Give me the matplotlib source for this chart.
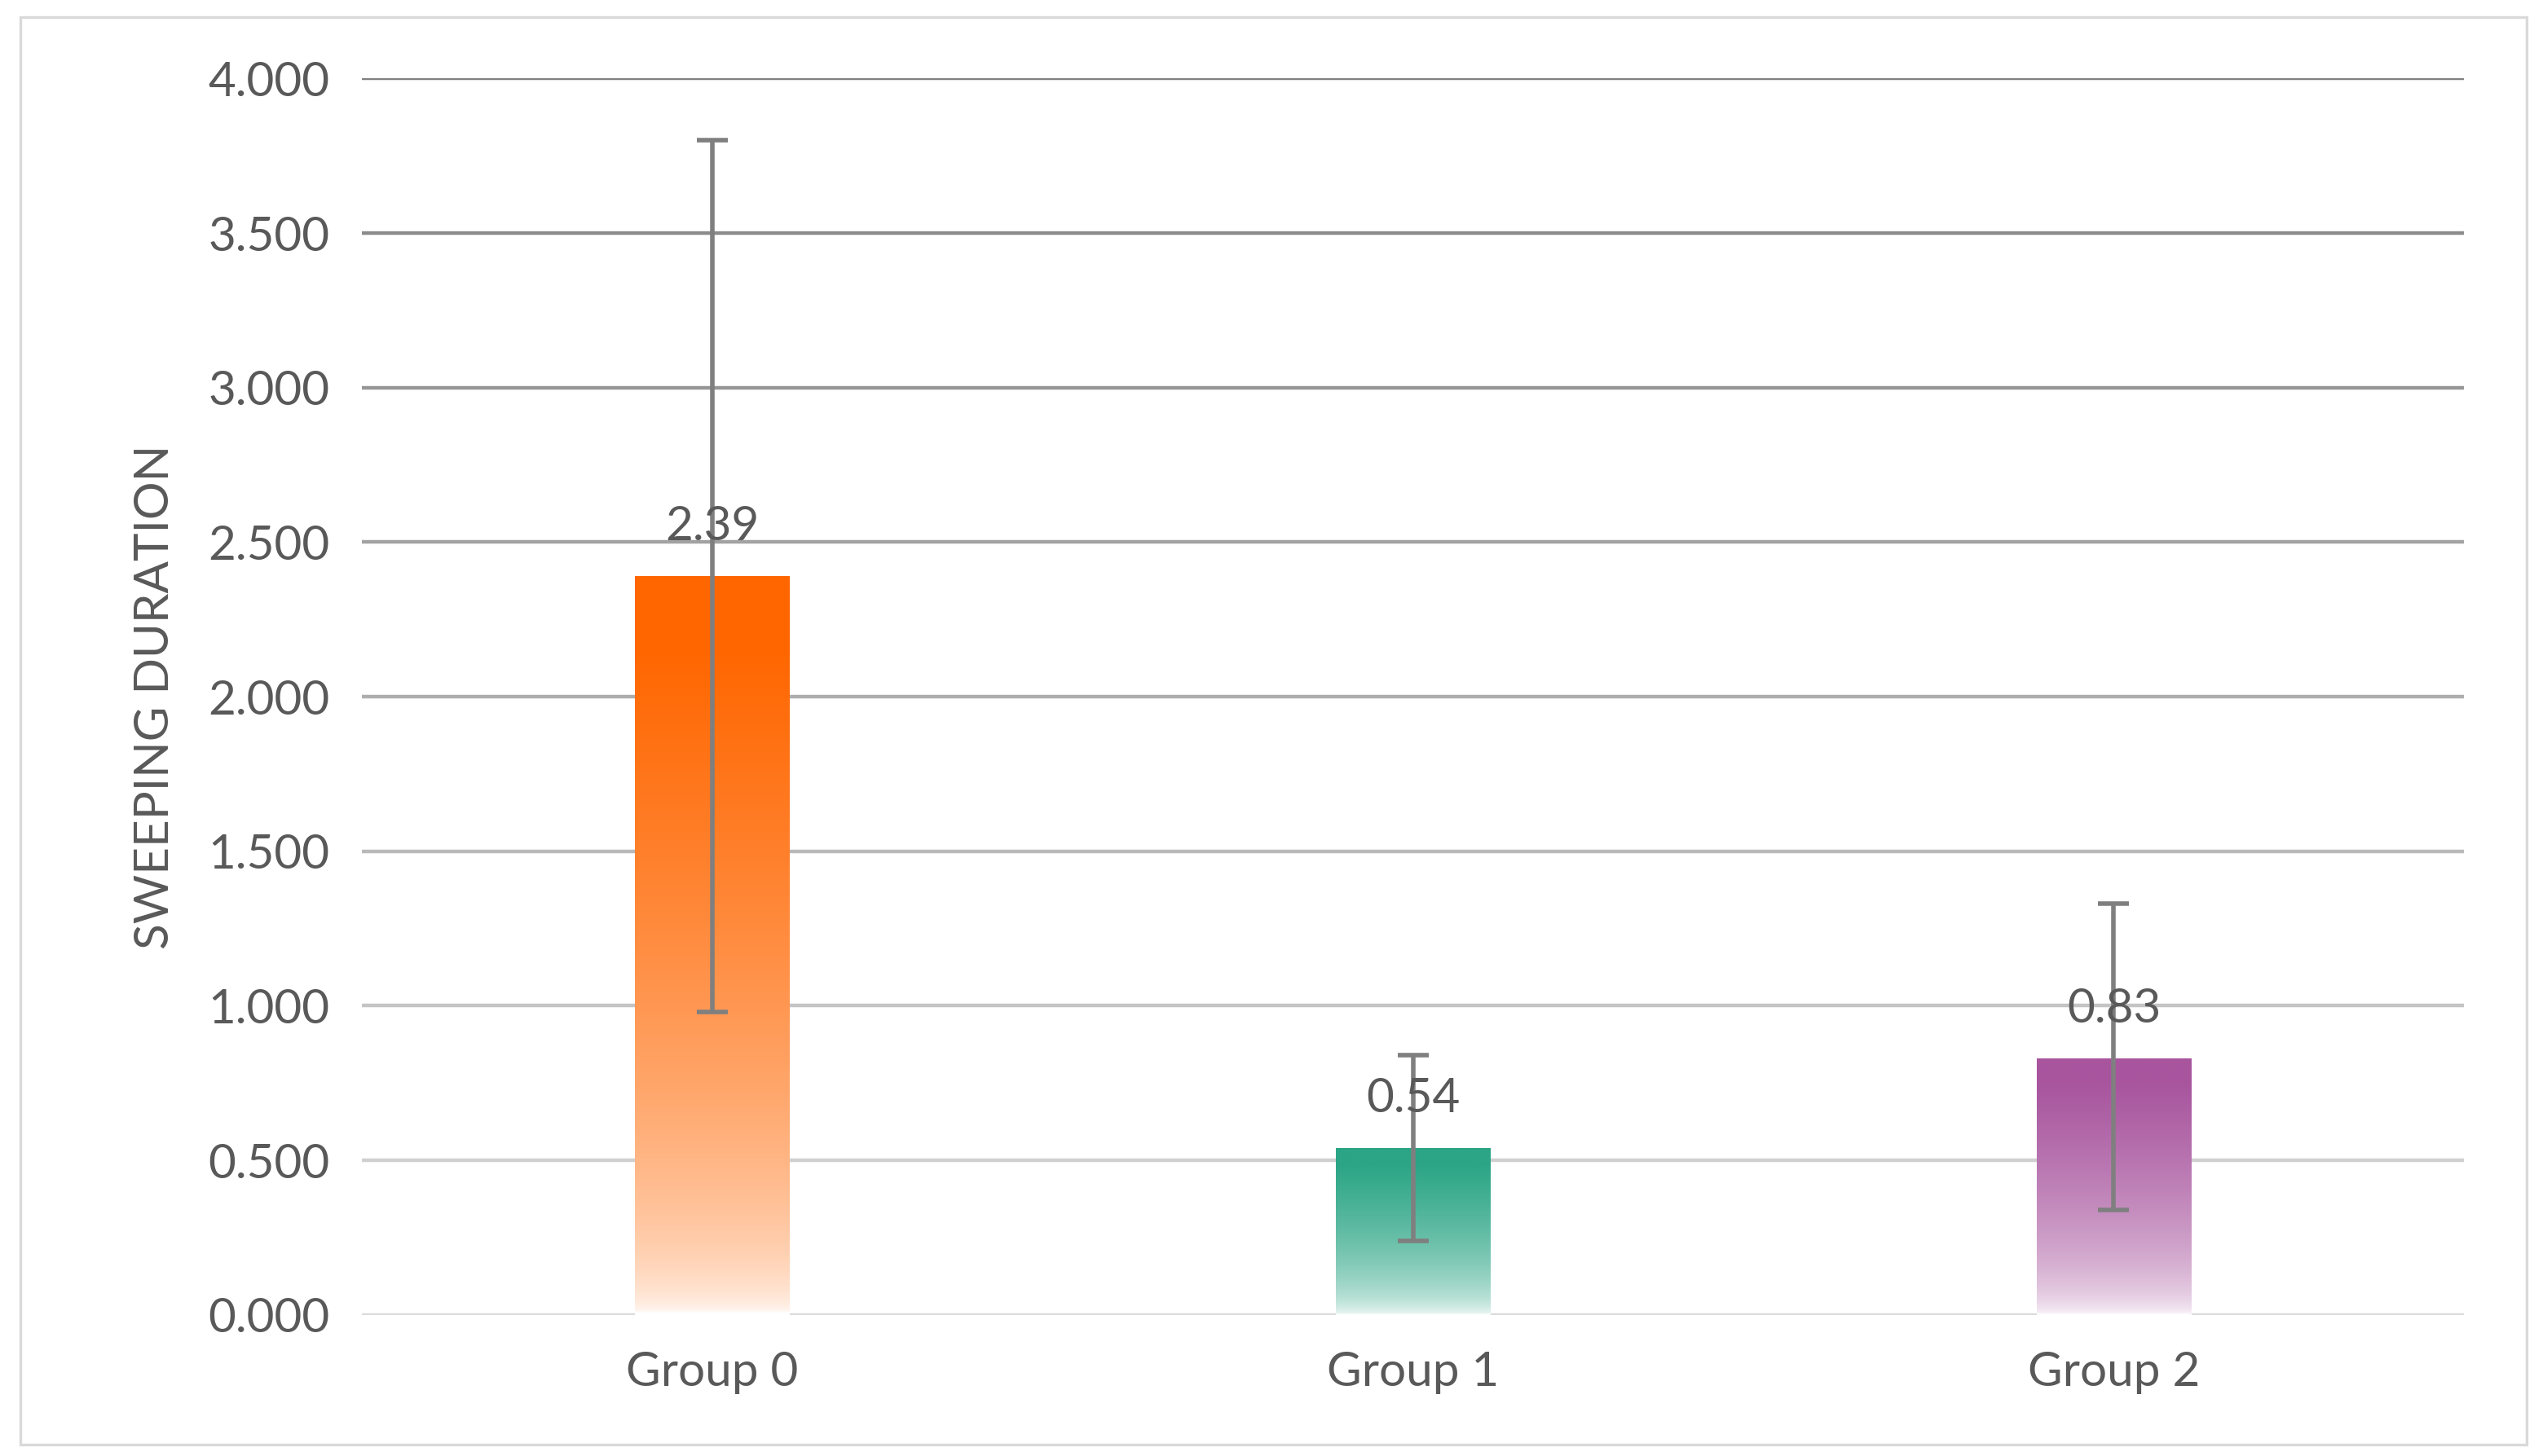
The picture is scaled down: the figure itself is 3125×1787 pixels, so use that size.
import numpy as np
import matplotlib.pyplot as plt
from matplotlib.colors import to_rgb
from matplotlib.patches import Rectangle

groups = ["Group 0", "Group 1", "Group 2"]
means = [2.39, 0.54, 0.83]
err_low = [0.98, 0.24, 0.34]
err_high = [3.80, 0.84, 1.33]
colors = ["#FF6600", "#2BA585", "#A8559E"]
yticks = [0.0, 0.5, 1.0, 1.5, 2.0, 2.5, 3.0, 3.5, 4.0]

plt.rcParams["font.family"] = ["Lato", "DejaVu Sans"]
fig = plt.figure(figsize=(15.625, 8.935), dpi=200)
ax = fig.add_axes([0.142, 0.097, 0.8255, 0.849])

# outer frame
fig.patches.append(Rectangle((0.008, 0.008), 0.984, 0.98, transform=fig.transFigure,
                             fill=False, edgecolor="#d9d9d9", lw=1.2))

x = np.arange(len(groups))

# gridlines shading from light at bottom to dark at top
for i, v in enumerate(yticks):
    g = 0.86 - 0.36 * i / (len(yticks) - 1)
    ax.axhline(v, color=(g, g, g), lw=1.6, zorder=0)

width = 0.22
for xi, m, c in zip(x, means, colors):
    rgb = np.array(to_rgb(c))
    t = np.linspace(1, 0, 200) ** 0.5  # top -> bottom
    t = np.clip(t * 1.05, 0, 1)
    img = rgb[None, :] * t[:, None] + (1 - t[:, None])
    img = img[:, None, :]
    ax.imshow(img, extent=[xi - width / 2, xi + width / 2, 0, m],
              aspect="auto", zorder=2, interpolation="bilinear")
    ax.text(xi, m + 0.09, f"{m:.2f}", ha="center", va="bottom",
            fontsize=21, color="#595959", zorder=4)

lo = np.array(means) - np.array(err_low)
hi = np.array(err_high) - np.array(means)
ax.errorbar(x, means, yerr=[lo, hi], fmt="none", ecolor="#7f7f7f",
            elinewidth=2, capsize=7, capthick=2, zorder=3)
ax.set_xlim(-0.5, 2.5)
ax.set_ylim(0, 4.0)

ax.set_xticks(x)
ax.set_xticklabels(groups)
ax.set_yticks(yticks)
ax.set_yticklabels([f"{v:.3f}" for v in yticks])
ax.tick_params(length=0, labelsize=21, colors="#595959")
ax.tick_params(axis="x", pad=16)
ax.tick_params(axis="y", pad=14)
ax.set_ylabel("SWEEPING DURATION", fontsize=21, color="#595959", labelpad=14)
for s in ax.spines.values():
    s.set_visible(False)

fig.savefig("out.png", dpi=200)
